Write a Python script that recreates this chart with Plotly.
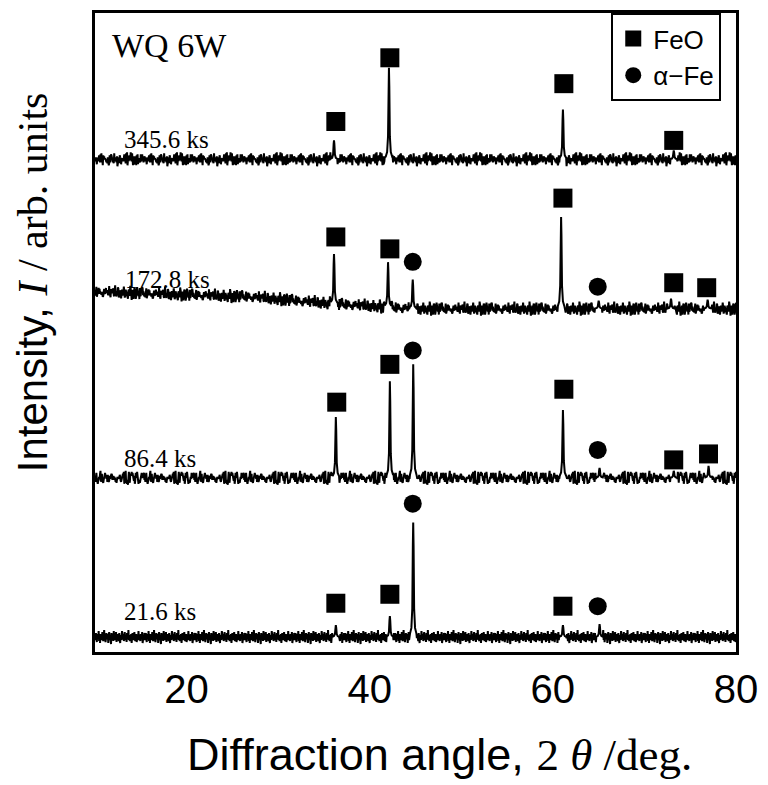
import numpy as np
import plotly.graph_objects as go

# ---------------- data ----------------
angle_start, angle_end, angle_step = 10.0, 80.0, 0.05

labels = ["21.6 ks", "86.4 ks", "172.8 ks", "345.6 ks"]
offsets = [15, 175, 345, 495]          # vertical offset of each pattern (arb. units)
label_x = [12.9, 13.0, 13.1, 13.0]
label_y = [41, 194, 374, 515]

# hand-typed baseline noise pattern (arb. units)
noise_pattern = [2, -3, 4, -1, -5, 3, 0, -2, 6, -4, 1, -6, 3, -1, 2, -3, 5, -2, -4, 1,
                 7, -3, 0, -5, 2, 4, -2, -1, 3, -6, 1, 5, -3, 2, -2, -7, 4, 0, -1, 3,
                 -4, 6, -2, 1, -3, 0, 5, -5, 2, -1, 3, -2, -4, 4, 1, -6, 2, 0, -3, 6,
                 -1, -2, 3, -4, 1, 5, -3, -1, 2, -5, 4, 0, -2, 7, -3, 1, -4, 2, -1, 3,
                 -6, 0, 4, -2, 1, -3, 5, -1, -4, 2, 3, -5, 0, 1, -2, 6, -3, 2, -1, -4,
                 3, 0, -2, 5, -6, 1, 2, -3, 4]
noise_shift = [0, 37, 71, 19]
noise_stride = [1, 3, 5, 7]

# sloping background (only 172.8 ks pattern)
bg_x = [[10, 80], [10, 80], [10, 27, 36, 45, 80], [10, 80]]
bg_y = [[0, 0], [0, 0], [17, 12, 5, 0, 0], [0, 0]]

# diffraction peaks: positions (2theta) and heights above baseline
peaks_pos = [
    [36.3, 42.2, 44.75, 61.1, 65.1],
    [36.3, 42.2, 44.75, 61.1, 65.1, 73.2, 77.0],
    [36.1, 42.0, 44.7, 60.9, 65.0, 72.9, 76.9],
    [36.1, 42.1, 61.1, 73.2],
]
peaks_h = [
    [12, 21, 115, 12, 13],
    [61, 97, 114, 68, 10, 7, 12],
    [50, 45, 29, 92, 8, 10, 9],
    [19, 92, 50, 9],
]
profile_dx = [-0.35, -0.2, -0.1, -0.04, 0.0, 0.04, 0.1, 0.2, 0.35]
profile_frac = [0.03, 0.08, 0.25, 0.8, 1.0, 0.8, 0.25, 0.08, 0.03]

# phase identification markers
feo_x = [36.3, 42.2, 61.1,
         36.4, 42.2, 61.2, 73.2, 77.0,
         36.3, 42.2, 61.1, 73.2, 76.8,
         36.3, 42.2, 61.2, 73.2]
feo_y = [49, 58, 46,
         251, 289, 264, 193, 199,
         417, 405, 456, 371, 366,
         533, 597, 571, 514]
fe_x = [44.7, 64.9, 44.7, 64.9, 44.7, 64.9]
fe_y = [149, 46, 303, 203, 392, 367]

# ---------------- figure ----------------
fig = go.Figure()
x_grid = np.round(np.arange(angle_start, angle_end + 1e-9, angle_step), 3)
n = len(noise_pattern)
for k in range(4):
    pts = []
    for i, x in enumerate(x_grid):
        if any(abs(x - p) <= 0.35 + 1e-9 for p in peaks_pos[k]):
            continue
        pts.append((float(x), noise_pattern[(i * noise_stride[k] + noise_shift[k]) % n]))
    for p, h in zip(peaks_pos[k], peaks_h[k]):
        for dx, f in zip(profile_dx, profile_frac):
            pts.append((p + dx, h * f))
    pts.sort()
    xs = np.array([p[0] for p in pts])
    ys = offsets[k] + np.interp(xs, bg_x[k], bg_y[k]) + np.array([p[1] for p in pts])
    fig.add_trace(go.Scatter(x=xs, y=ys, mode="lines", line=dict(color="black", width=2.0),
                             showlegend=False, hoverinfo="skip"))

fig.add_trace(go.Scatter(x=feo_x, y=feo_y, mode="markers", name="FeO",
                         marker=dict(symbol="square", size=19, color="black")))
fig.add_trace(go.Scatter(x=fe_x, y=fe_y, mode="markers", name="α−Fe",
                         marker=dict(symbol="circle", size=18, color="black")))

serif = "Liberation Serif"
sans = "Liberation Sans"
for t, lx, ly in zip(labels, label_x, label_y):
    fig.add_annotation(x=lx, y=ly, text=t, showarrow=False, xanchor="left", yanchor="middle",
                       font=dict(family=serif, size=25, color="black"))
fig.add_annotation(x=11.6, y=609, text="WQ 6W", showarrow=False, xanchor="left", yanchor="middle",
                   font=dict(family=serif, size=34, color="black"))

fig.add_annotation(xref="paper", yref="paper", x=-0.098, y=0.579, textangle=-90,
                   text="Intensity, <span style=\"font-family:'Liberation Serif'\"><i>I</i> / arb. units</span>",
                   showarrow=False, xanchor="center", yanchor="middle",
                   font=dict(family=sans, size=42, color="black"))
fig.add_annotation(xref="paper", yref="paper", x=0.537, y=-0.160,
                   text="Diffraction angle, <span style=\"font-family:'Liberation Serif'\">2 <i>θ</i> /deg.</span>",
                   showarrow=False, xanchor="center", yanchor="middle",
                   font=dict(family=sans, size=45, color="black"))

fig.update_layout(
    width=768, height=785,
    margin=dict(l=95, r=31, t=10, b=133),
    plot_bgcolor="white", paper_bgcolor="white",
    legend=dict(x=0.977, y=1.0, xanchor="right", yanchor="top",
                bordercolor="black", borderwidth=2, bgcolor="white",
                font=dict(family=sans, size=26, color="black"),
                itemsizing="trace", tracegroupgap=0),
)
fig.update_xaxes(range=[10, 80], tick0=0, dtick=20, ticks="", showgrid=False, zeroline=False,
                 showline=True, mirror=True, linecolor="black", linewidth=2.5,
                 tickfont=dict(family=sans, size=40, color="black"))
fig.update_yaxes(range=[0, 642], showticklabels=False, ticks="", showgrid=False, zeroline=False,
                 showline=True, mirror=True, linecolor="black", linewidth=2.5)

fig.write_html("out.html")
